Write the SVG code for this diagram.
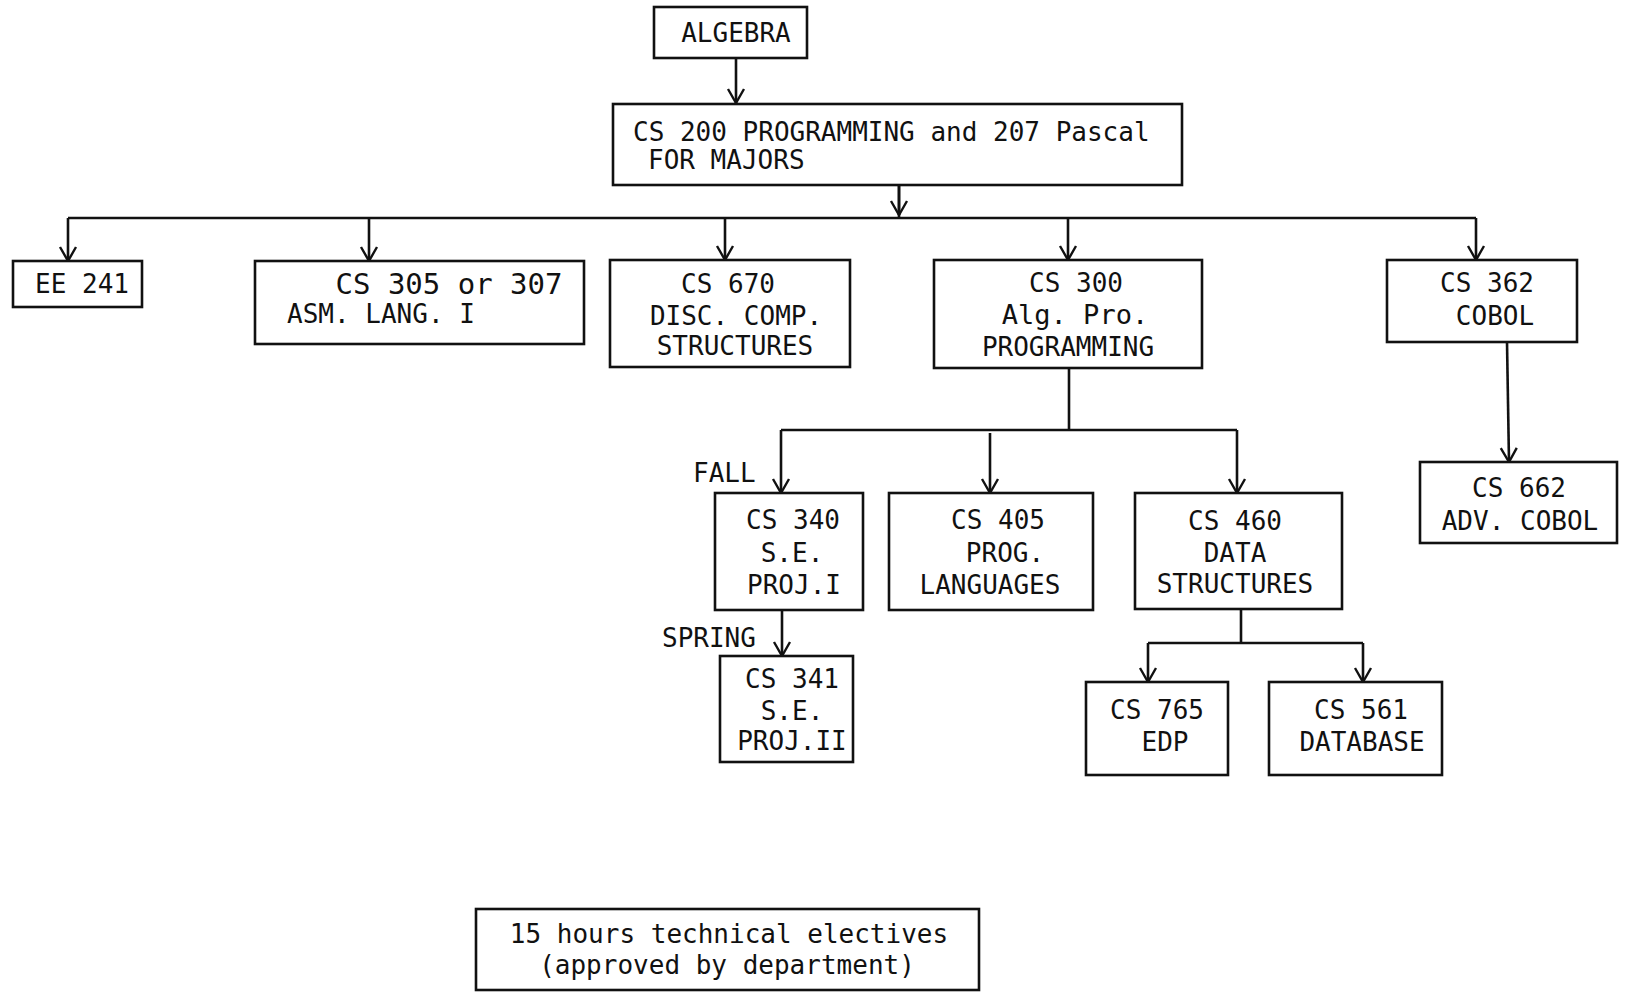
<svg xmlns="http://www.w3.org/2000/svg" width="1629" height="992" viewBox="0 0 1629 992">
<style>
.box{fill:#fff;stroke:#111;stroke-width:2.6}
.t{font-family:"DejaVu Sans Mono","Liberation Mono",monospace;font-size:26px;fill:#111}
.c{text-anchor:middle}
.big{font-size:29px}
.mid{font-size:27px}
.con{fill:none;stroke:#111;stroke-width:2.6}
</style>
<defs>
<marker id="arr" viewBox="0 0 16 20" refX="15" refY="10" markerWidth="16" markerHeight="20" markerUnits="userSpaceOnUse" orient="auto">
<path d="M1,2 L15,10 L1,18" fill="none" stroke="#111" stroke-width="2.4"/>
</marker>
</defs>
<rect width="1629" height="992" fill="#fff"/>
<g id="connectors">
<path class="con" d="M736,58 V103" marker-end="url(#arr)"/>
<path class="con" d="M899,185 V217"/>
<path class="con" d="M899,185 V215" marker-end="url(#arr)"/>
<path class="con" d="M68,218 H1476"/>
<path class="con" d="M68,218 V261" marker-end="url(#arr)"/>
<path class="con" d="M369,218 V261" marker-end="url(#arr)"/>
<path class="con" d="M725,218 V260" marker-end="url(#arr)"/>
<path class="con" d="M1068,218 V260" marker-end="url(#arr)"/>
<path class="con" d="M1476,218 V260" marker-end="url(#arr)"/>
<path class="con" d="M1507,342 L1509,462" marker-end="url(#arr)"/>
<path class="con" d="M1069,368 V430 M781,430 H1237"/>
<path class="con" d="M781,430 V493" marker-end="url(#arr)"/>
<path class="con" d="M990,433 V493" marker-end="url(#arr)"/>
<path class="con" d="M1237,430 V493" marker-end="url(#arr)"/>
<path class="con" d="M782,610 V656" marker-end="url(#arr)"/>
<path class="con" d="M1241,609 V643 M1148,643 H1363"/>
<path class="con" d="M1148,643 V682" marker-end="url(#arr)"/>
<path class="con" d="M1363,643 V682" marker-end="url(#arr)"/>
</g>
<g id="algebra">
<rect class="box" x="654" y="7" width="153" height="51"/>
<text class="t c" x="736" y="42">ALGEBRA</text>
</g>
<g id="cs200">
<rect class="box" x="613" y="104" width="569" height="81"/>
<text class="t" x="633" y="141">CS 200 PROGRAMMING and 207 Pascal</text>
<text class="t" x="648" y="169">FOR MAJORS</text>
</g>
<g id="ee241">
<rect class="box" x="13" y="261" width="129" height="46"/>
<text class="t c" x="82" y="293">EE 241</text>
</g>
<g id="cs305">
<rect class="box" x="255" y="261" width="329" height="83"/>
<text class="t c big" x="449" y="294">CS 305 or 307</text>
<text class="t" x="287" y="323">ASM. LANG. I</text>
</g>
<g id="cs670">
<rect class="box" x="610" y="260" width="240" height="107"/>
<text class="t c" x="728" y="293">CS 670</text>
<text class="t c" x="736" y="325">DISC. COMP.</text>
<text class="t c" x="735" y="355">STRUCTURES</text>
</g>
<g id="cs300">
<rect class="box" x="934" y="260" width="268" height="108"/>
<text class="t c" x="1076" y="292">CS 300</text>
<text class="t c mid" x="1075" y="324">Alg. Pro.</text>
<text class="t c" x="1068" y="356">PROGRAMMING</text>
</g>
<g id="cs362">
<rect class="box" x="1387" y="260" width="190" height="82"/>
<text class="t c" x="1487" y="292">CS 362</text>
<text class="t c" x="1495" y="325">COBOL</text>
</g>
<g id="cs662">
<rect class="box" x="1420" y="462" width="197" height="81"/>
<text class="t c" x="1519" y="497">CS 662</text>
<text class="t c" x="1520" y="530">ADV. COBOL</text>
</g>
<g id="cs340">
<text class="t" x="693" y="482">FALL</text>
<rect class="box" x="715" y="493" width="148" height="117"/>
<text class="t c" x="793" y="529">CS 340</text>
<text class="t c" x="792" y="562">S.E.</text>
<text class="t c" x="794" y="594">PROJ.I</text>
</g>
<g id="cs405">
<rect class="box" x="889" y="493" width="204" height="117"/>
<text class="t c" x="998" y="529">CS 405</text>
<text class="t c" x="1005" y="562">PROG.</text>
<text class="t c" x="990" y="594">LANGUAGES</text>
</g>
<g id="cs460">
<rect class="box" x="1135" y="493" width="207" height="116"/>
<text class="t c" x="1235" y="530">CS 460</text>
<text class="t c" x="1235" y="562">DATA</text>
<text class="t c" x="1235" y="593">STRUCTURES</text>
</g>
<g id="cs341">
<text class="t" x="662" y="647">SPRING</text>
<rect class="box" x="720" y="656" width="133" height="106"/>
<text class="t c" x="792" y="688">CS 341</text>
<text class="t c" x="792" y="720">S.E.</text>
<text class="t c" x="792" y="750">PROJ.II</text>
</g>
<g id="cs765">
<rect class="box" x="1086" y="682" width="142" height="93"/>
<text class="t c" x="1157" y="719">CS 765</text>
<text class="t c" x="1165" y="751">EDP</text>
</g>
<g id="cs561">
<rect class="box" x="1269" y="682" width="173" height="93"/>
<text class="t c" x="1361" y="719">CS 561</text>
<text class="t c" x="1362" y="751">DATABASE</text>
</g>
<g id="electives">
<rect class="box" x="476" y="909" width="503" height="81"/>
<text class="t c" x="729" y="943">15 hours technical electives</text>
<text class="t c" x="727" y="974">(approved by department)</text>
</g>
</svg>
